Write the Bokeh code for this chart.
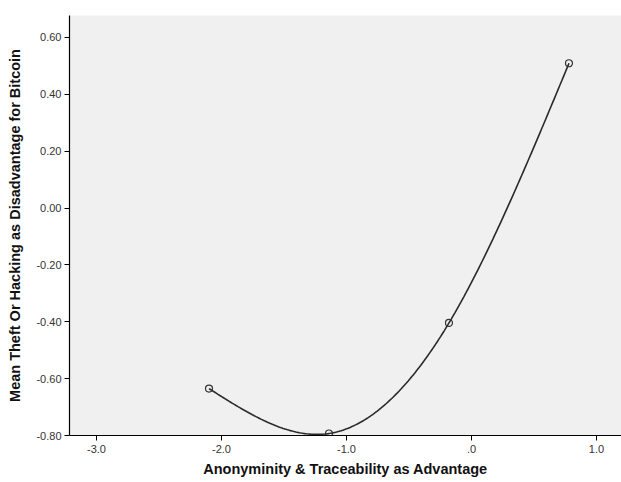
import numpy as np
from bokeh.plotting import figure
from bokeh.models import FixedTicker, Range1d
from bokeh.embed import file_html
from bokeh.resources import INLINE

x_vals = [-2.10, -1.14, -0.18, 0.78]
y_vals = [-0.635, -0.793, -0.404, 0.509]
x_ticks = [-3.0, -2.0, -1.0, 0.0, 1.0]
x_tick_labels = ["-3.0", "-2.0", "-1.0", ".0", "1.0"]
y_ticks = [-0.8, -0.6, -0.4, -0.2, 0.0, 0.2, 0.4, 0.6]
y_tick_labels = ["-0.80", "-0.60", "-0.40", "-0.20", "0.00", "0.20", "0.40", "0.60"]


def natural_spline(xs, ys, n=200):
    xs = np.asarray(xs, float)
    ys = np.asarray(ys, float)
    k = len(xs)
    h = np.diff(xs)
    A = np.zeros((k, k))
    r = np.zeros(k)
    A[0, 0] = 1
    A[-1, -1] = 1
    for i in range(1, k - 1):
        A[i, i - 1] = h[i - 1]
        A[i, i] = 2 * (h[i - 1] + h[i])
        A[i, i + 1] = h[i]
        r[i] = 6 * ((ys[i + 1] - ys[i]) / h[i] - (ys[i] - ys[i - 1]) / h[i - 1])
    M = np.linalg.solve(A, r)
    xx = np.linspace(xs[0], xs[-1], n)
    yy = np.empty_like(xx)
    for j, t in enumerate(xx):
        i = min(np.searchsorted(xs, t, side="right") - 1, k - 2)
        a = xs[i + 1] - t
        b = t - xs[i]
        hi = h[i]
        yy[j] = (M[i] * a ** 3 / (6 * hi) + M[i + 1] * b ** 3 / (6 * hi)
                 + (ys[i] / hi - M[i] * hi / 6) * a
                 + (ys[i + 1] / hi - M[i + 1] * hi / 6) * b)
    return xx, yy


p = figure(width=621, height=482, output_backend="svg", toolbar_location=None,
           x_range=Range1d(-3.216, 1.2), y_range=Range1d(-0.8, 0.677),
           min_border_left=69, min_border_right=0, min_border_top=15,
           min_border_bottom=47)
p.background_fill_color = "#f0f0f0"
p.border_fill_color = "white"
p.outline_line_color = None
p.grid.visible = False

sx, sy = natural_spline(x_vals, y_vals)
p.line(sx, sy, line_color="#2a2a2a", line_width=1.6)
p.scatter(x_vals, y_vals, marker="circle", size=7, fill_color=None,
          line_color="#333333", line_width=1.2)

p.xaxis.ticker = FixedTicker(ticks=x_ticks)
p.xaxis.major_label_overrides = {t: l for t, l in zip(x_ticks, x_tick_labels)}
p.yaxis.ticker = FixedTicker(ticks=y_ticks)
p.yaxis.major_label_overrides = {t: l for t, l in zip(y_ticks, y_tick_labels)}

for ax in (p.xaxis, p.yaxis):
    ax.axis_line_color = "black"
    ax.axis_line_width = 1.2
    ax.major_tick_line_color = "black"
    ax.major_tick_in = 0
    ax.major_tick_out = 5
    ax.minor_tick_line_color = None
    ax.major_label_text_font = "Liberation Sans"
    ax.major_label_text_font_size = "11px"
    ax.major_label_text_color = "#333333"
    ax.axis_label_text_font = "Liberation Sans"
    ax.axis_label_text_font_size = "14.5px"
    ax.axis_label_text_font_style = "bold"
    ax.axis_label_text_color = "#111111"

p.xaxis.axis_label = "Anonyminity & Traceability as Advantage"
p.yaxis.axis_label = "Mean Theft Or Hacking as Disadvantage for Bitcoin"
p.xaxis.major_label_standoff = 4
p.xaxis.axis_label_standoff = 5
p.yaxis.major_label_standoff = 3
p.yaxis.axis_label_standoff = 10

open("out.html", "w").write(file_html(p, INLINE))
